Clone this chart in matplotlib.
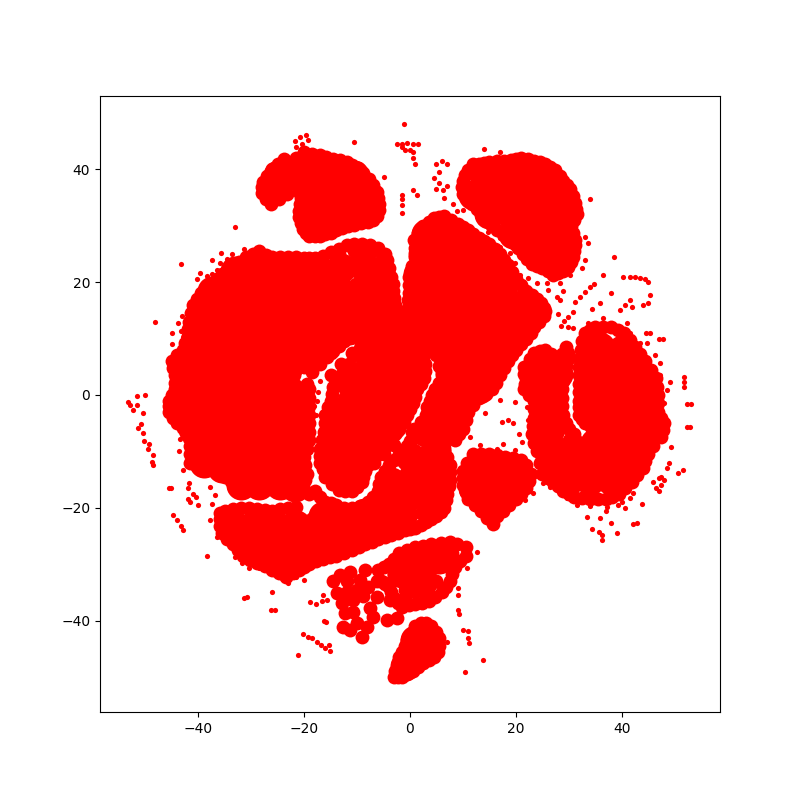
# t-SNE embedding, points
import matplotlib
matplotlib.use('Agg')
from matplotlib import pyplot as plt

# dense interior of the clusters
core_pts = [
 (-18,39.5),(-14,39.5),(-10.5,39),(-19,36),(-15,36),(-11,36),(-8,35.5),(-18.5,32.5),(-15,32.5),(-11,32.5),(-8,32.5),(-17,30.5),(-25.5,36.5),(-25,39),
 (14,39),(18,39),(22,39),(26,38.5),(12,35.5),(16,35.5),(20,35.5),(24,35.5),(28.5,35),(15,32),(19,32),(23,32),(27,32),(29,32),
 (19.5,28.5),(23.5,28.5),(27.5,28.5),(29,28.5),(23.5,25.5),(27,25),(29,25.5),(27.5,23.5),
 (-33,22),(-29,22),(-25,22),(-21,22),(-17,22),(-13,22.5),(-9,23),(-5.7,22),
 (-37.5,18.5),(-33.5,18.5),(-29.5,18.5),(-25.5,18.5),(-21.5,18.5),(-17.5,18.5),(-13.5,18.5),(-9.5,18.5),(-5.5,18.5),
 (-39,15),(-35,15),(-31,15),(-27,15),(-23,15),(-19,15),(-15,15),(-11,15),(-7,15),(-4.5,15),
 (-39.5,11.5),(-35.5,11.5),(-31.5,11.5),(-27.5,11.5),(-23.5,11.5),(-19.5,11.5),(-15.5,11.5),(-11.5,11.5),(-7.5,11.5),(-3.5,11.5),(-1.5,11),
 (-40,8),(-36,8),(-32,8),(-28,8),(-24,8),(-20,8),(-16,9),(-8,8),(-4,8),(0,7.5),
 (-42,4.5),(-39,4.5),(-35,4.5),(-31,4.5),(-27,4.5),(-23,5),(-11.5,2.5),(-8,4.5),(-4,4.5),(0,4.5),
 (-42.5,1),(-38.5,1),(-34.5,1),(-30.5,1),(-26.5,1),(-22.5,0.5),(-11,-1),(-9,1),(-5,1),(-1,1),
 (-43,-2.5),(-39.5,-2.5),(-35.5,-2.5),(-31.5,-2.5),(-27.5,-2.5),(-23.5,-2.5),(-21.8,-3),(-13,-3),(-10,-2.5),(-6,-2.5),(-2.5,-2.5),
 (-41,-6),(-37.5,-6),(-33.5,-6),(-29.5,-6),(-25.5,-6),(-21.8,-6),(-13.5,-6),(-9.8,-6),(-5.8,-6),(-3.5,-5.5),
 (-39,-9.5),(-35.5,-9.5),(-31.5,-9.5),(-27.5,-9.5),(-23.5,-9.5),(-22,-9.5),(-14,-9.5),(-10.5,-9.5),(-7,-8.5),
 (-39,-12),(-35.5,-13),(-31.5,-13),(-27.5,-13),(-23.5,-13),(-22.5,-13),(-14,-13),(-11,-13),
 (-32,-16),(-28.5,-16),(-24.5,-16),(-21.7,-16.3),(-13,-14.8),(-11,-14.5),
 (-33.5,-23),(-29.5,-23),(-25.5,-23),(-21.5,-23),(-17.5,-23),(-13.5,-23),(-9.5,-23.5),(-5.5,-22.5),(-1.5,-21.5),
 (-31,-26.5),(-27,-26.5),(-23,-26.5),(-19,-26.5),(-15,-26),(-11,-25.5),(-27.5,-28),(-23.5,-29.5),(-20,-28),
 (-16.5,-21.5),(-12.5,-21.8),(-8.5,-21),(-4.5,-19),(-0.5,-18),(3.5,-18.5),(4.5,-17),(-3.5,-15.5),(0.5,-14.5),(4.5,-14),(0,-11),(4,-11),(5,-9.5),
 (3,28.5),(7,28.5),(10.5,27.5),(2.5,25),(6.5,25),(10.5,25),(14,24.5),(1.5,21.5),(5.5,21.5),(9.5,21.5),(13.5,21.5),(17,21.5),
 (1.7,18),(5.3,18),(9.3,18),(13.3,18),(17.3,18),(21,16),(2,14.5),(6,14.5),(10,14.5),(14,14.5),(18,14.5),(22,14.5),
 (4,11),(8,11),(12,11),(16,11),(20,11.5),(7,7.5),(11,7.5),(15,7.5),(17.5,8),(7.5,4),(11.5,4),(14.5,4),(7,0.5),(10.5,0.5),(13,1),(5,-3),(8.5,-3),(3,-6.5),(6.5,-6),
 (36,8.5),(40,8),(35,5.5),(39,5),(43,4.5),(34.7,2),(38,2),(42,2),(44.5,1),(34.8,-1.5),(37.5,-1.5),(41.5,-1.5),(44.5,-2),(35.5,-5),(39,-5),(43,-5),(45.5,-5.5),
 (26.5,-9),(31,-9.5),(35,-8.5),(39,-8.5),(43,-8.5),(27,-12),(31,-12.5),(35,-12),(39,-12),(42.5,-11.5),(30,-15),(34,-15),(38,-15),(41,-13.5),
 (25,5),(28,3.8),(24.5,1.5),(26.5,0),(25.5,-3.5),(26.5,-6),
 (13,-13),(17,-13),(20.5,-14.5),(12,-16.5),(16,-16.5),(19,-16.5),(15.5,-19.5),
 (1,-29),(5.5,-29),(-1.5,-31.5),(2.5,-33),(1,-43.5),(3.2,-44.2),(0.5,-46),(-1,-48),
]

# thinner rims and the loose parts of the clusters
edge_pts = [
 (-14.6,41.8),(-12,41.3),(-9.8,40.2),(-7.8,38.3),(-6.3,36),(-5.8,33.8),(-6.2,31.8),(-8,30.6),(-10.5,30.2),(-12.8,29.6),(-15,28.8),(-17,28.2),(-19,28.1),(-20.2,29.5),(-21,31.5),(-20.8,33.8),(-20.5,36),(-20.2,38),(-20.2,41),(-20,43),(-17,42.5),
 (-23.2,35.6),(-26.2,33.9),(-28,35.8),(-27.8,37.8),(-26,40),(-23.8,41.8),(-22,40),(-22,37.5),
 (-13.3,41.7),(-11,40.8),(-8.8,39.3),(-7,37.2),(-6,35),(-5.9,32.8),(-7,31.1),(-9.2,30.4),(-11.7,29.9),(-13.9,29.2),(-16,28.5),(-18,28.1),(-19.6,28.7),(-20.6,30.5),(-21,32.7),(-20.6,34.9),(-20.3,37),(-20.2,39.5),(-20,42),(-18.5,42.8),(-15.8,42.2),(-24.7,34.7),(-27.2,34.8),(-28,36.8),(-27,38.9),(-25,41),(-22.8,41.2),(-21.5,42),(-22,38.8),(-23.5,37),(-23,39.5),(-25,37.5),(-19,41),(-21,36),
 (12,41),(14,41.2),(16.5,41.4),(19,41.7),(21,42),(23.5,41.5),(25.5,41),(27.5,39.8),(29,38),(30.3,36.5),(31.2,34),(31.5,32),(30.5,30),(31.2,27.5),(31,25.5),(30.5,23.5),(29,22),(27,21.3),(25,22.5),(23,23.3),(21.3,25),(19.8,26.8),(17.5,28.5),(15.5,30),(13.5,32),(11.7,33.8),(10,35.7),(10,38),(11,39.8),
 (13,41),(15,41.3),(17.7,41.5),(20,41.9),(22.3,41.8),(24.5,41.3),(26.5,40.4),(28.3,38.9),(29.7,37.2),(30.8,35.3),(31.4,33),(31,31),(30.9,28.7),(31.2,26.5),(30.8,24.5),(29.8,22.7),(28,21.6),(26,21.9),(24,22.9),(22.1,24.1),(20.5,26),(18.7,27.7),(16.5,29.2),(14.5,31),(12.6,32.9),(10.8,34.7),(9.8,36.8),(10.4,39),
 (-28.5,25.5),(-31,24.5),(-33.5,22.8),(-35.5,21.5),(-37.5,19.8),(-39.5,18),(-41,16),(-41.7,13),(-42,10.5),(-43,8),(-45,6),(-44.5,3.5),(-44.5,1),(-45.5,-1),(-45.5,-3),(-44,-5),(-42,-6.5),(-41.5,-9),(-41.5,-12),(-38,-13),(-35,-14.5),(-32.5,-16),
 (-29.7,25),(-32.3,23.6),(-34.5,22.1),(-36.5,20.6),(-38.5,18.9),(-40.3,17),(-41.4,14.5),(-41.9,11.7),(-42.5,9.2),(-44,7),(-44.8,4.8),(-44.5,2.2),(-45,0),(-45.5,-2),(-44.8,-4),(-43,-5.8),(-41.8,-7.7),(-41.5,-10.5),(-40,-12.8),(-36.5,-13.8),(-33.8,-15.2),
 (-26,24.5),(-23,24.5),(-20,24.3),(-18,24.2),(-15,25.3),(-12,26.5),(-9,26.8),(-6,26),(-4.3,24),(-3.5,21),(-3.2,18.5),(-2.8,16),(-1.5,13.5),(0.5,11),(2.3,8.5),(2.8,5.5),(2.7,3),(1.3,1),(0.5,-1.5),(-0.5,-3.5),(-2,-6),(-3.5,-8),(-5.5,-10),(-7.5,-11.5),(-8.5,-13.5),(-9,-15.5),(-11,-17),(-13.5,-16.8),(-16,-14.5),(-17,-12),(-17,-9.5),(-16.3,-6.5),(-16,-3.5),(-15,-1),(-14.5,1.5),(-13,3.5),(-11.5,5.5),
 (-27.2,24.8),(-24.5,24.5),(-21.5,24.4),(-19,24.2),(-16.5,24.7),(-13.5,25.9),(-10.5,26.7),(-7.5,26.5),(-5.2,25),(-3.9,22.5),(-3.3,19.7),(-3,17.2),(-2.2,14.8),(-0.5,12.2),(1.4,9.7),(2.6,7),(2.8,4.2),(2.1,2),(0.9,-0.3),(0,-2.5),(-1.2,-4.8),(-2.8,-7),(-4.5,-9),(-6.5,-10.8),(-8,-12.5),(-8.8,-14.5),(-10,-16.3),(-12.2,-17.1),(-14.8,-15.7),(-16.5,-13.2),(-17,-10.8),(-16.6,-8),(-16.1,-5),(-15.5,-2.2),(-14.7,0.2),(-13.8,2.5),(-12.2,4.5),(-10.5,7),
 (-13.5,25),(-10.5,25.5),(-7.5,25.2),(-4.8,25),
 (-15,3.5),(-13,5.5),(-11,7.5),(-15,7.5),(-17,5.5),(-18.5,4),(-3,-8.8),(-5,-10.5),(-6.8,-12),
 (-19.5,-14),(-20,-11),(-19,-8),(-19,-5),(-19,-2),(-19,1),(-22,3.5),(-20,5),(-17,6),(-14.5,7.8),(-12.5,9.5),
 (-19.8,-15),(-19.8,-12.5),(-19.5,-9.5),(-19,-6.5),(-19,-3.5),(-19,-0.5),(-19.5,2),(-18.5,5),(-15.7,6.8),(-13.5,8.7),
 (-20,-17),(-18,-17),(-16,-19),(-14,-19.5),(-11,-20),(-8,-19),(-6,-17),(-5.5,-14.5),(-4,-12.5),(-2,-10.5),(-0.5,-9),(0.5,-7.5),
 (-19,-17.5),(-17,-18),(-15,-19.2),(-12.5,-20),(-9.5,-19.7),(-7,-18),(-5.8,-15.8),(-4.8,-13.5),(-3,-11.5),(-1.2,-9.8),(0,-8.2),
 (-36,-22),(-35.5,-24.5),(-33.5,-26.5),(-31.5,-28.5),(-29,-29.8),(-26,-31),(-23.5,-32.2),(-21,-31),(-19,-30),(-16.5,-29),(-14,-28.5),(-11,-27.5),(-8.5,-26.5),(-6,-25.5),(-3.5,-24.8),(-1,-24),(1,-23.5),(3,-22.5),(5,-21.5),(6.5,-20),(7,-17.5),(7.5,-15),(7.5,-12.5),(6.5,-10),
 (-36,-23.2),(-34.5,-25.5),(-32.5,-27.5),(-30.2,-29.2),(-27.5,-30.4),(-24.7,-31.6),(-22.2,-31.6),(-20,-30.5),(-17.7,-29.5),(-15.2,-28.7),(-12.5,-28),(-9.7,-27),(-7.2,-26),(-4.7,-25.2),(-2.2,-24.4),(0,-23.7),(2,-23),(4,-22),(5.8,-20.8),(6.8,-18.7),(7.3,-16.2),(7.5,-13.7),(7,-11),(-36,-21),(-33.5,-20.2),(-30.5,-20.1),(-27.5,-20.4),(-24.5,-20.2),(-21.5,-19.8),(-2.5,-22),(2,-21),(6,-13),(5,-17),
 (-35,-20.5),(-32,-20),(-29,-20.3),(-26,-20.5),(-23,-20),
 (-0.3,15.5),(-0.2,18),(-0.2,21),(1,24.5),(0.8,27.5),(2.5,30),(4.5,31.3),(6.5,31.7),(9,30.3),(11,29.2),(13,27.8),(15,26.8),(17,25),(18.5,23),(20,20.5),(22,18.5),(24,17),(25.3,15.5),(25.3,14),(23.5,12),(22,10),(20,8),(18.5,6),(17,3.5),(15.5,1),(13,-0.5),(11,-3),(10,-6),(8.5,-8),
 (-0.3,16.8),(-0.2,19.5),(0.4,22.8),(0.9,26),(1.6,28.8),(3.5,30.7),(5.5,31.5),(7.8,31),(10,29.8),(12,28.5),(14,27.3),(16,25.9),(17.8,24),(19.2,21.8),(21,19.5),(23,17.7),(24.7,16.3),(25.5,14.8),(24.4,13),(22.8,11),(21,9),(19.2,7),(17.7,4.8),(16.2,2.2),(14.3,0.2),(12,-1.7),(10.5,-4.5),(9.2,-7),
 (1.3,13),(3.5,10),(5,7),(6,3.5),(4.7,1),(3.7,-1),(3,-3.5),(0.8,-6),
 (0.6,14.2),(2.4,11.5),(4.3,8.5),(5.5,5.2),(5.4,2.2),(4.2,0),(3.3,-2.2),(2,-4.8),(0.3,-6.5),
 (21.5,5),(23.5,7.5),(25.5,8),(28,6),(29.5,8.5),(30,6.5),(29,4),(28.8,1),(28.8,-2),(29.5,-5),(31,-7),(23.5,-1),(23.5,-4),(23,-7),(24,-10),(22,3),(21.5,1),(25,-14),(27,-15.5),(29,-17),(31,-18),(34,-18.5),(37,-18.5),(39.5,-17.5),(42,-15.5),(44,-13),(45,-10.5),(47.5,-7.5),(48,-5),(46.8,-3),(46.8,0),(46.5,3),(44.5,6),(42.5,8.5),(40.5,11),(38,12),(35,12),(33,11),(32.3,8),(32,5),(32,2),(32,-1),(32,-3.5),(33,-5),
 (22.7,6.3),(24.5,7.8),(26.7,7.2),(28.7,7.2),(29.8,7.5),(29.5,5.2),(28.9,2.5),(28.8,-0.5),(29,-3.5),(30,-6),(23.5,-2.5),(23.3,-5.5),(23.5,-8.5),(24.5,-12),(26,-14.7),(28,-16.2),(30,-17.5),(32.5,-18.3),(35.5,-18.5),(38.2,-18),(40.7,-16.5),(43,-14.2),(44.5,-11.7),(46,-9),(47.8,-6.2),(47.4,-4),(46.8,-1.5),(46.6,1.5),(45.5,4.5),(43.5,7.2),(41.5,9.7),(39.3,11.5),(36.5,12),(34,11.5),(32.6,9.5),(32.1,6.5),(32,3.5),(32,0.5),(32,-2.2),(32.5,-4.2),(21.8,2),(21.5,3.8),(22.5,0),(30,-8),(29,-13),(25,-11),
 (12,-10.5),(15,-10.5),(18,-11),(21,-11.5),(22.8,-14),(22,-16.5),(20,-18.5),(17.5,-20.5),(15.7,-22.8),(13.5,-20.5),(11,-18.5),(10,-16),(10,-13.5),
 (13.5,-10.5),(16.5,-10.7),(19.5,-11.2),(22,-12.5),(22.5,-15.2),(21,-17.5),(18.8,-19.5),(16.5,-21.5),(14.5,-21.8),(12.2,-19.5),(10.5,-17.2),(10,-14.7),(10.8,-12),
 (-6,-31),(-4,-30),(-2,-28),(1,-27),(4,-26.5),(7.5,-26),(10.5,-27),(10.5,-28.5),(8.5,-30.5),(7.5,-33),(6,-35),(3.5,-36.5),(1,-37),(-1.5,-37.5),(-3,-36),(-4,-34),(-5.5,-33),(-3,-32),(-1,-34.5),
 (8.8,-26.5),(9.5,-29.5),(8,-31.8),(6.8,-34),(4.8,-35.8),(2.3,-36.8),(-0.2,-37.3),(-2.3,-36.8),(-3.5,-35),(-4.8,-33.5),(-1,-36),(1,-35),(3,-35.5),(5,-33),(-5,-30.5),(-3,-29),(-0.5,-27.5),(2.5,-26.7),(5.8,-26.2),(8,-28),
 (-14.6,-33),(-13.2,-32),(-11.3,-31.4),(-8.5,-31),(-9.5,-32.8),(-11.9,-33),(-13.8,-35.1),(-11.9,-34.9),(-10,-34.6),(-7.9,-34),(-12.9,-36.9),(-10.8,-36.3),(-8.9,-35.6),(-6.2,-35.8),(-6.2,-33),(-12.3,-38.7),(-10.8,-38.5),(-7.6,-37.8),(-12.7,-41.1),(-11.3,-41.7),(-10,-40.4),(-8.1,-41.1),(-7,-39.4),(-9.1,-42.9),(-4.3,-39.9),(-2.5,-39.5),(-3.8,-36.3),(-5.1,-33.1),
 (-3,-50),(-1.5,-50),(0.5,-49),(2.5,-47.5),(4.5,-46.5),(5.5,-44.5),(5,-42),(3,-40.5),(1,-41),(-0.5,-43.5),(-1.5,-45.5),(-2.3,-47.5),
 (-2.3,-50),(-0.5,-49.5),(1.5,-48.2),(3.5,-47),(5.2,-45.5),(5.5,-43),(4,-41),(2,-40.5),(0.3,-42.2),(-1,-44.5),(-2,-46.5),(-2.8,-49),(-1,-47),(1,-47.5),
]

# single dots and short strings outside the clusters
loose_pts = [
 (-53.3,-1.2),(-52.9,-1.8),(-52.4,-2.7),(-51.6,-0.2),(-50.1,0),(-51.6,-1.8),(-50.5,-3.2),(-51.4,-5.9),(-50.9,-5.1),(-50.5,-6.7),(-50.3,-8.2),(-49.3,-8.7),(-49.5,-9.6),(-48.6,-10.6),(-48.8,-11.9),(-48.6,-12.4),
 (-48.2,12.9),(-43.3,23.2),(-33.1,29.8),(-1.1,48),(-10.6,44.9),(-19.3,45.2),(-4.9,38.7),
 (-17.3,0.5),(-17,2.5),(-17.5,-1),(-18.2,-2),(-17.7,-3.5),
 (-2.5,44.5),(-1.5,44.5),(-0.5,44.7),(0.5,44.5),(1.5,44.5),(-1,43.5),(0.5,43),(0.5,42),(1,41),(0,43.5),(-1.5,44),
 (-20.5,44.5),(-21.7,45),(-20.8,45.8),(-19.7,46),(-21.5,44),
 (-1.5,35.5),(-1.5,34.8),(-1.5,33.7),(-1.5,32.2),(0.6,36.3),(1.3,35.5),
 (5,41),(6,41.5),(7,41),(5.5,39.5),(4.5,38.5),(5.5,37.5),(5,36.5),(6.2,36.3),(7,37),(6.5,35),
 (14,43.6),(17,43.1),(34,34.8),(38.6,24.5),(36.5,21.3),
 (8.2,33.9),(8.8,32.6),(10,32.8),(13.2,30.7),(14.8,28.9),(17,27.8),(17,26.2),(18.9,25.2),(19.8,23.4),(20.8,21.3),(22.3,20.7),(24,19.9),(25.9,19.9),(28.4,19.9),(30.2,21.3),(26.1,18.6),(27.8,17.4),(28.4,16.8),(28.9,18.4),(33.1,28),(33.6,27),(33.1,23.9),(32.5,22.5),
 (-37.4,23.9),(-35.9,23.4),(-34.6,24.1),(-33.6,25),(-31.4,25.9),(-35.7,25.2),(-39.7,21.6),(-40.3,20.6),(-38.4,21.1),(-37.4,21.5),(-36.5,22.2),(-43.1,14),(-43.9,12.8),(-43.3,11.3),(-45,11),(-45,9),(-42.9,10.3),
 (-43.7,-10),(-43.5,-7.8),(-41.8,-15.6),(-42.9,-13.3),(-39.7,-13.7),(-37.8,-16.3),(-36.9,-17.7),(-37.4,-19.3),(-35.9,-20.4),(-37.8,-22.2),(-36.5,-25.2),(-33.1,-28.7),(-31.8,-29.8),(-30.4,-30.7),(-28.5,-30.7),(-25.5,-31),(-24.2,-32.4),(-23.1,-33.3),(-21.6,-32.3),
 (33.6,12.8),(36.5,13.7),(38.2,11.9),(41,12.8),(41.6,11),(43.5,9.2),(44.8,9.2),(46.3,7.1),(47.3,5.7),(47.3,3.5),(48.6,0.9),(48,-1.5),(29.9,12.1),(30.8,11.9),(32.7,11),
 (31.6,-19.5),(34,-19.7),(37.2,-19.9),(39.3,-19.5),(42.2,-17.4),(41.6,-18.3),(44.4,-13.3),(45,-11.5),(29.7,-18.3),(27.8,-16.8),(26.5,-16.3),(25.1,-15.6),(23.3,-17.4),(21.7,-18.6),
 (40.3,21),(41.5,21),(42.5,21),(43.5,20.8),(44.5,20.5),(45,20),(38,18),(45.4,17.7),(45,16.3),(44,16),
 (31.2,16.5),(32.1,17.4),(33.1,18.3),(34,19.2),(34.8,19.7),(35.9,16.3),(34.4,15.2),(39.7,15),(40.6,16),(42,15.6),(41.6,16.8),
 (28,14.4),(30.8,14.7),(29.9,13.8),(29.1,13.1),(28.5,12.2),
 (47.8,9.9),(47,9.9),(45.4,11),(44.7,11),(49.1,2.3),(51.8,3.2),(51.8,2.3),(51.8,1.4),(53.1,-1.6),(52.3,-1.6),(52.9,-5.7),(52.4,-5.7),(49.3,-9.3),
 (47,-17),(47.5,-16),(46,-15.5),(47.5,-14.5),(48.5,-13),(49,-12),(46.5,-16.5),(47,-14.8),(48,-15),(50.7,-13.8),(51.6,-13.3),
 (33.5,-21.6),(35.9,-21.8),(34.4,-23.8),(35.7,-24.3),(36.3,-25.7),(36.2,-24.8),(38,-22.7),(39.1,-24.5),(42.2,-22.9),(43,-22.7),(43.9,-19.3),(40.6,-20),(40,-19),(37,-20.5),(34,-19.5),
 (9.1,-38.1),(9.2,-38.8),(10,-41.7),(11,-41.9),(11,-43),(11.2,-44),(13.8,-47),(10.4,-49.1),(7,-43.8),(9.1,-34.2),(9.1,-35.5),(10.8,-30.7),(12.7,-27.8),
 (14.2,-3.2),(17.4,-4.8),(18.5,-4.4),(19.5,-5),(20.6,-6.9),(17.6,-8.7),(11.3,-7.4),(13.2,-8.9),(16.4,-9.5),(19.8,-9.8),(21.2,-8.3),(22.3,-4.4),(22.1,-2.1),(19.8,-1.2),(17,-0.9),
 (-45.6,-16.5),(-45.2,-16.5),(-42,-16.5),(-41,-17.5),(-42,-18.5),(-40.5,-18),(-41.5,-19),(-40,-19.5),(-44.8,-21.3),(-44,-22.2),(-43.3,-23.2),(-42.9,-23.9),
 (-38.4,-28.5),(-30.8,-35.8),(-31.3,-36),(-26.1,-34.9),(-26.3,-38.1),(-25.5,-38.1),(-21.2,-46.1),
 (-20.2,-42.4),(-19.3,-42.9),(-18.5,-43.1),(-17.6,-43.8),(-16.8,-44.3),(-16.1,-44.9),(-15.1,-45.4),(-15.3,-44.3),(-16.3,-40),(-15.8,-40.3),
 (-18.9,-36.7),(-17.8,-37),(-16.6,-36.5),(-15.7,-36.3),(-16.4,-35.5),(-20,-32.8),
]

fig = plt.figure(figsize=(8, 8), dpi=100)
ax = fig.add_subplot(111)
for pts, size in ((core_pts, 467), (edge_pts, 100), (loose_pts, 14)):
    x = [p[0] for p in pts]
    y = [p[1] for p in pts]
    ax.scatter(x, y, s=size, c='red', linewidths=0)
ax.set_xlim(-58.6, 58.6)
ax.set_ylim(-56.2, 53)
fig.savefig('out.png', dpi=100)
